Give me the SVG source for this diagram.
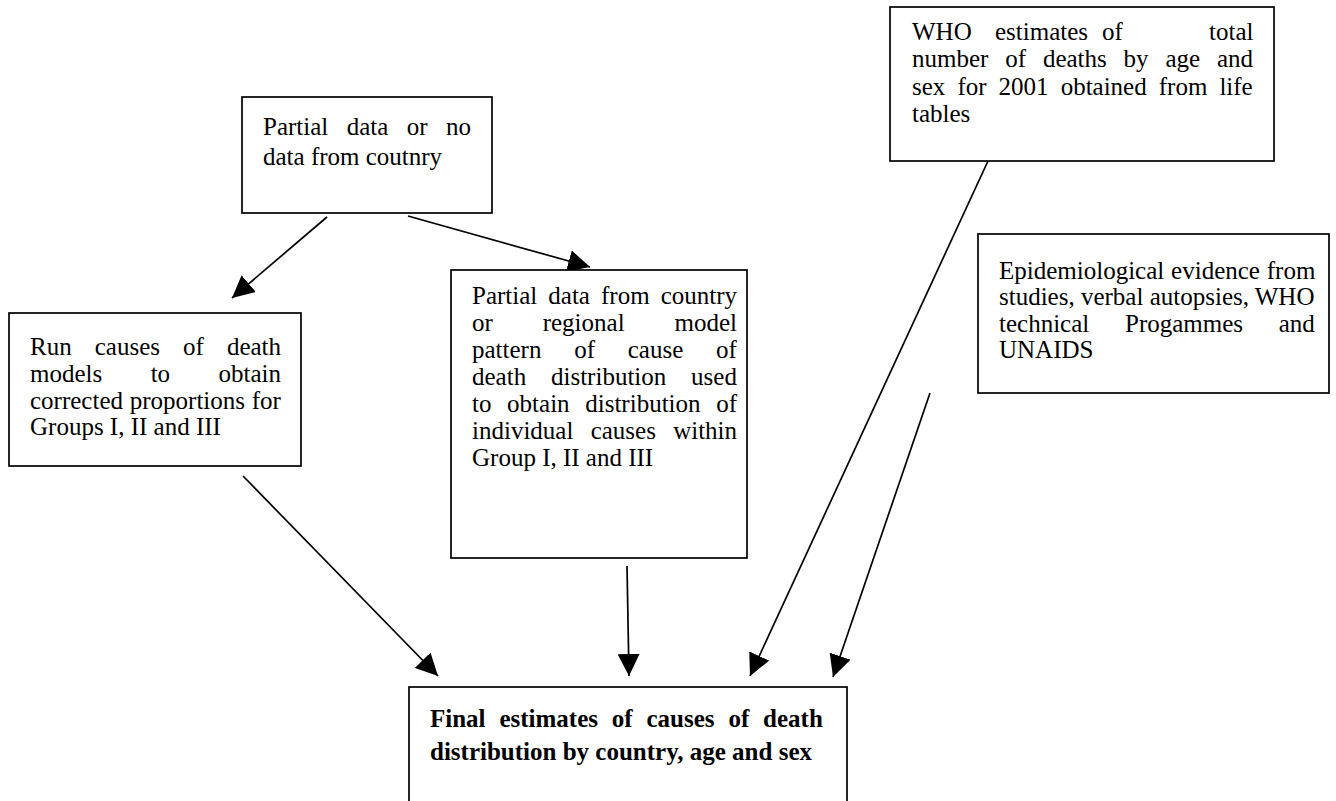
<svg xmlns="http://www.w3.org/2000/svg" width="1336" height="801" viewBox="0 0 1336 801">
<style>
.box{fill:#fff;stroke:#000;stroke-width:1.7}
.t{font-family:"Liberation Serif","Times New Roman",serif;font-size:25px;fill:#000}
.b{font-weight:bold}
.c{stroke:#000;stroke-width:1.7;fill:none;marker-end:url(#ah)}
</style>
<defs>
<marker id="ah" markerUnits="userSpaceOnUse" markerWidth="22" markerHeight="22" refX="20" refY="10" orient="auto" viewBox="0 0 20 20">
<path d="M0,0 L20,10 L0,20 z" fill="#000"/>
</marker>
</defs>
<rect width="1336" height="801" fill="#fff"/>
<g id="connectors">
<line class="c" x1="327" y1="217" x2="232" y2="298"/>
<line class="c" x1="408" y1="216" x2="590" y2="267"/>
<line class="c" x1="243" y1="476" x2="438" y2="676"/>
<line class="c" x1="627" y1="566" x2="629" y2="676"/>
<line class="c" x1="988" y1="161" x2="750" y2="676"/>
<line class="c" x1="930" y1="393" x2="833" y2="677"/>
</g>
<g id="node-partial-or-no">
<rect class="box" x="242" y="97" width="250" height="116"/>
<text class="t" x="263" y="135" word-spacing="12.2">Partial data or no</text>
<text class="t" x="263" y="165">data from coutnry</text>
</g>
<g id="node-run-models">
<rect class="box" x="9" y="313" width="292" height="153"/>
<text class="t" x="30" y="355" word-spacing="16.8">Run causes of death</text>
<text class="t" x="30" y="382" word-spacing="42.2">models to obtain</text>
<text class="t" x="30" y="409" word-spacing="0.5">corrected proportions for</text>
<text class="t" x="30" y="435">Groups I, II and III</text>
</g>
<g id="node-partial-country">
<rect class="box" x="451" y="270" width="296" height="288"/>
<text class="t" x="472" y="304" word-spacing="4.8">Partial data from country</text>
<text class="t" x="472" y="331" word-spacing="43.6">or regional model</text>
<text class="t" x="472" y="358" word-spacing="26.5">pattern of cause of</text>
<text class="t" x="472" y="385" word-spacing="18.6">death distribution used</text>
<text class="t" x="472" y="412" word-spacing="9.4">to obtain distribution of</text>
<text class="t" x="472" y="439" word-spacing="11">individual causes within</text>
<text class="t" x="472" y="466">Group I, II and III</text>
</g>
<g id="node-who">
<rect class="box" x="890" y="7" width="384" height="154"/>
<text class="t" y="40"><tspan x="912">WHO</tspan> <tspan x="995">estimates</tspan> <tspan x="1102">of</tspan> <tspan x="1209">total</tspan></text>
<text class="t" x="912" y="67" word-spacing="10.6">number of deaths by age and</text>
<text class="t" x="912" y="95" word-spacing="5.8">sex for 2001 obtained from life</text>
<text class="t" x="912" y="122">tables</text>
</g>
<g id="node-epi">
<rect class="box" x="978" y="234" width="351" height="159"/>
<text class="t" x="999" y="279" word-spacing="0.6">Epidemiological evidence from</text>
<text class="t" x="999" y="305">studies, verbal autopsies, WHO</text>
<text class="t" x="999" y="332" word-spacing="29.5">technical Progammes and</text>
<text class="t" x="999" y="358">UNAIDS</text>
</g>
<g id="node-final">
<rect class="box" x="409" y="687" width="438" height="140"/>
<text class="t b" x="430" y="727" word-spacing="7.6">Final estimates of causes of death</text>
<text class="t b" x="430" y="760">distribution by country, age and sex</text>
</g>
</svg>
